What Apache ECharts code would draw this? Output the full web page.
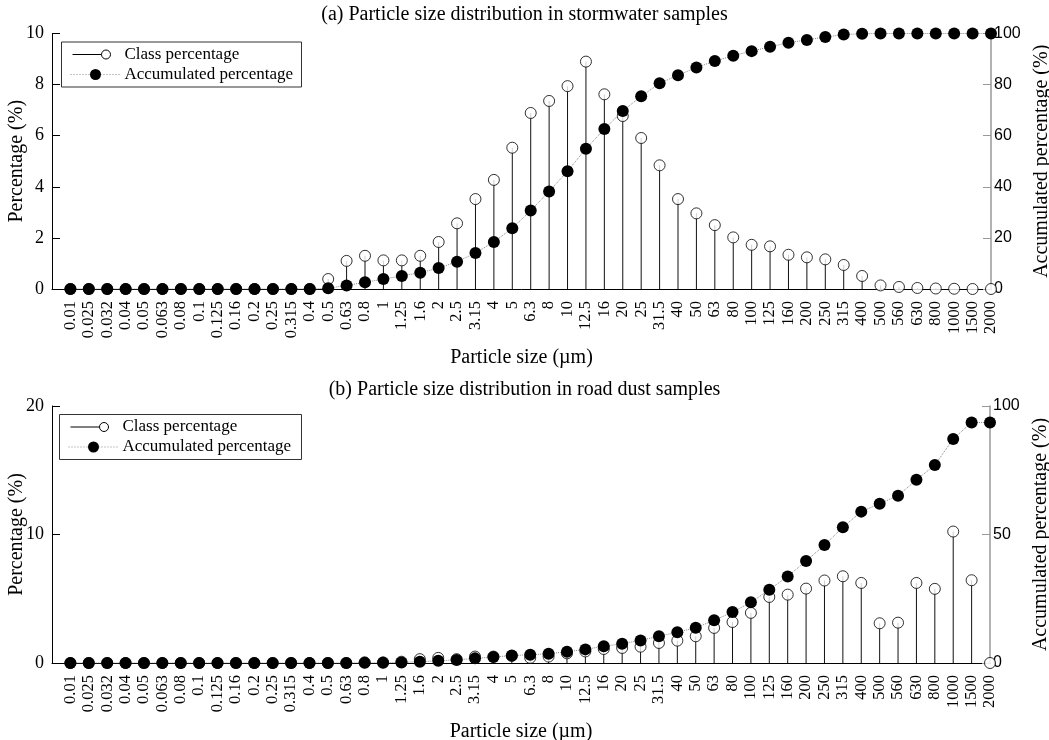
<!DOCTYPE html>
<html>
<head>
<meta charset="utf-8">
<script src="https://cdn.jsdelivr.net/npm/echarts@6/dist/echarts.min.js"></script>
<style>
html,body{margin:0;padding:0;background:#fff;}
#chart{width:1049px;height:740px;}
</style>
</head>
<body>
<div id="chart"></div>
<script>
// ---- data ----
var categories = ['0.01','0.025','0.032','0.04','0.05','0.063','0.08','0.1','0.125','0.16','0.2','0.25','0.315','0.4','0.5','0.63','0.8','1','1.25','1.6','2','2.5','3.15','4','5','6.3','8','10','12.5','16','20','25','31.5','40','50','63','80','100','125','160','200','250','315','400','500','560','630','800','1000','1500','2000'];

var stormClass = [0,0,0,0,0,0,0,0,0,0,0,0,0,0,
  0.39,1.1,1.3,1.12,1.12,1.3,1.84,2.57,3.52,4.27,5.53,6.89,7.36,7.94,8.9,7.62,6.77,5.91,4.84,3.52,
  2.96,2.5,2.02,1.73,1.67,1.34,1.24,1.16,0.94,0.51,0.14,0.08,0.04,0.02,0.01,0,0];
var stormAcc = [0,0,0,0,0,0,0,0,0,0,0,0,0,0,
  0.3,1.4,2.6,3.9,5.1,6.4,8.2,10.7,14.1,18.4,23.8,30.7,38.2,46.1,54.9,62.6,69.7,75.4,80.5,83.7,
  86.7,89.2,91.3,93.1,94.8,96.4,97.5,98.6,99.6,99.9,100,100,100,100,100,100,100];

var roadClass = [0,0,0,0,0,0,0,0,0,0,0,0,0,0,0,0,
  0.05,0.05,0.1,0.3,0.4,0.3,0.5,0.5,0.55,0.4,0.5,0.75,0.9,1.09,1.17,1.27,1.56,1.74,
  2.08,2.73,3.19,3.9,5.14,5.32,5.79,6.42,6.75,6.23,3.09,3.14,6.23,5.77,10.23,6.44,0];
var roadAcc = [0,0,0,0,0,0,0,0,0,0,0,0,0,0,0,0,
  0.05,0.1,0.2,0.5,0.9,1.2,1.8,2.3,2.9,3.2,3.6,4.4,5.3,6.5,7.5,8.8,10.4,12.0,
  13.7,16.6,19.8,23.6,28.5,33.7,39.7,45.9,52.8,58.9,62.0,65.1,71.3,77.0,87.2,93.6,93.6];

var titles = ['(a) Particle size distribution in stormwater samples','(b) Particle size distribution in road dust samples'];
var legendNames = ['Class percentage','Accumulated percentage'];
var leftTicks = [{max:10, interval:2},{max:20, interval:10}];
var rightTicks = [{max:100, interval:20},{max:100, interval:50}];

// ---- chart ----
var SERIF = '"Liberation Serif","DejaVu Serif",serif';
var SANS = '"Liberation Sans","DejaVu Sans",sans-serif';

function pairs(arr){ return arr.map(function(v,i){return [i,v];}); }

var grids = [
  {left:52, right:58, top:33.5, height:255.5, containLabel:false, outerBoundsMode:'none'},
  {left:52, right:59, top:406, height:257, containLabel:false, outerBoundsMode:'none'}
];

function xAxis(gi){
  return {
    type:'value', gridIndex:gi, min:-1, max:categories.length-1, interval:1,
    axisLine:{show:true, onZero:false, lineStyle:{color:'#000', width:1}},
    axisTick:{show:false}, splitLine:{show:false},
    axisLabel:{rotate:90, fontFamily:SERIF, fontSize:16.5, color:'#000', margin:12,
      formatter:function(v){ return v>=0 ? categories[v] : ''; }},
    name:'Particle size (\u00b5m)', nameLocation:'middle', nameGap:59,
    nameTextStyle:{fontFamily:SERIF, fontSize:20, color:'#000'}
  };
}
function leftAxis(gi){
  return {
    type:'value', gridIndex:gi, position:'left', min:0, max:leftTicks[gi].max, interval:leftTicks[gi].interval,
    axisLine:{show:true, onZero:false, lineStyle:{color:'#000', width:1}},
    axisTick:{show:true, inside:true, length:8, lineStyle:{color:'#000'}},
    splitLine:{show:false},
    axisLabel:{fontFamily:SERIF, fontSize:18, color:'#000', margin:8},
    name:'Percentage (%)', nameLocation:'middle', nameGap:25, nameRotate:90, nameMoveOverlap:false,
    nameTextStyle:{fontFamily:SERIF, fontSize:20, color:'#000'}
  };
}
function rightAxis(gi){
  return {
    type:'value', gridIndex:gi, position:'right', min:0, max:rightTicks[gi].max, interval:rightTicks[gi].interval,
    axisLine:{show:true, onZero:false, lineStyle:{color:'#999', width:1.5}},
    axisTick:{show:true, inside:true, length:8, lineStyle:{color:'#999'}},
    splitLine:{show:false},
    axisLabel:{fontFamily:SANS, fontSize:16, color:'#000', margin:3},
    name:'Accumulated percentage (%)', nameLocation:'middle', nameGap:38, nameRotate:90,
    nameTextStyle:{fontFamily:SERIF, fontSize:20, color:'#000'}
  };
}

function seriesFor(gi, cls, acc){
  return [
    {type:'bar', name:legendNames[0]+' stem', xAxisIndex:gi, yAxisIndex:gi*2, data:pairs(cls),
      barWidth:1, itemStyle:{color:'#111'}, z:2, silent:true},
    {type:'scatter', name:legendNames[0], xAxisIndex:gi, yAxisIndex:gi*2, data:pairs(cls),
      symbol:'circle', symbolSize:11, itemStyle:{color:'#fff', borderColor:'#000', borderWidth:1}, z:3},
    {type:'line', name:legendNames[1], xAxisIndex:gi, yAxisIndex:gi*2+1, data:pairs(acc),
      symbol:'circle', symbolSize:12, showSymbol:true,
      itemStyle:{color:'#000', borderWidth:0},
      lineStyle:{type:'dotted', color:'#888', width:1}, z:4}
  ];
}

function legendGraphic(x, y, w, h){
  return {
    type:'group', left:x, top:y,
    children:[
      {type:'rect', shape:{x:0,y:0,width:w,height:h}, style:{fill:'#fff', stroke:'#333', lineWidth:1}},
      {type:'line', shape:{x1:11,y1:12.5,x2:40,y2:12.5}, style:{stroke:'#000', lineWidth:1}},
      {type:'circle', shape:{cx:44.5,cy:12.5,r:4.5}, style:{fill:'#fff', stroke:'#000', lineWidth:1}},
      {type:'text', x:63, y:12.5, style:{text:legendNames[0], font:'17px '+SERIF, fill:'#000', textVerticalAlign:'middle'}},
      {type:'line', shape:{x1:9,y1:32.5,x2:59,y2:32.5}, style:{stroke:'#888', lineWidth:1, lineDash:[1,2]}},
      {type:'circle', shape:{cx:34,cy:32.5,r:5.5}, style:{fill:'#000'}},
      {type:'text', x:63, y:32.5, style:{text:legendNames[1], font:'17px '+SERIF, fill:'#000', textVerticalAlign:'middle'}}
    ]
  };
}

var option = {
  animation:false,
  backgroundColor:'#fff',
  title:[
    {text:titles[0], left:'center', top:0, textStyle:{fontFamily:SERIF, fontSize:20, fontWeight:'normal', color:'#000'}},
    {text:titles[1], left:'center', top:375, textStyle:{fontFamily:SERIF, fontSize:20, fontWeight:'normal', color:'#000'}}
  ],
  grid:grids,
  xAxis:[xAxis(0), xAxis(1)],
  yAxis:[leftAxis(0), rightAxis(0), leftAxis(1), rightAxis(1)],
  series:[].concat(seriesFor(0, stormClass, stormAcc), seriesFor(1, roadClass, roadAcc)),
  graphic:[legendGraphic(61, 41.5, 240, 45), legendGraphic(59, 414, 242, 45)]
};

var chart = echarts.init(document.getElementById('chart'), null, {renderer:'canvas'});
chart.setOption(option);
</script>
</body>
</html>
